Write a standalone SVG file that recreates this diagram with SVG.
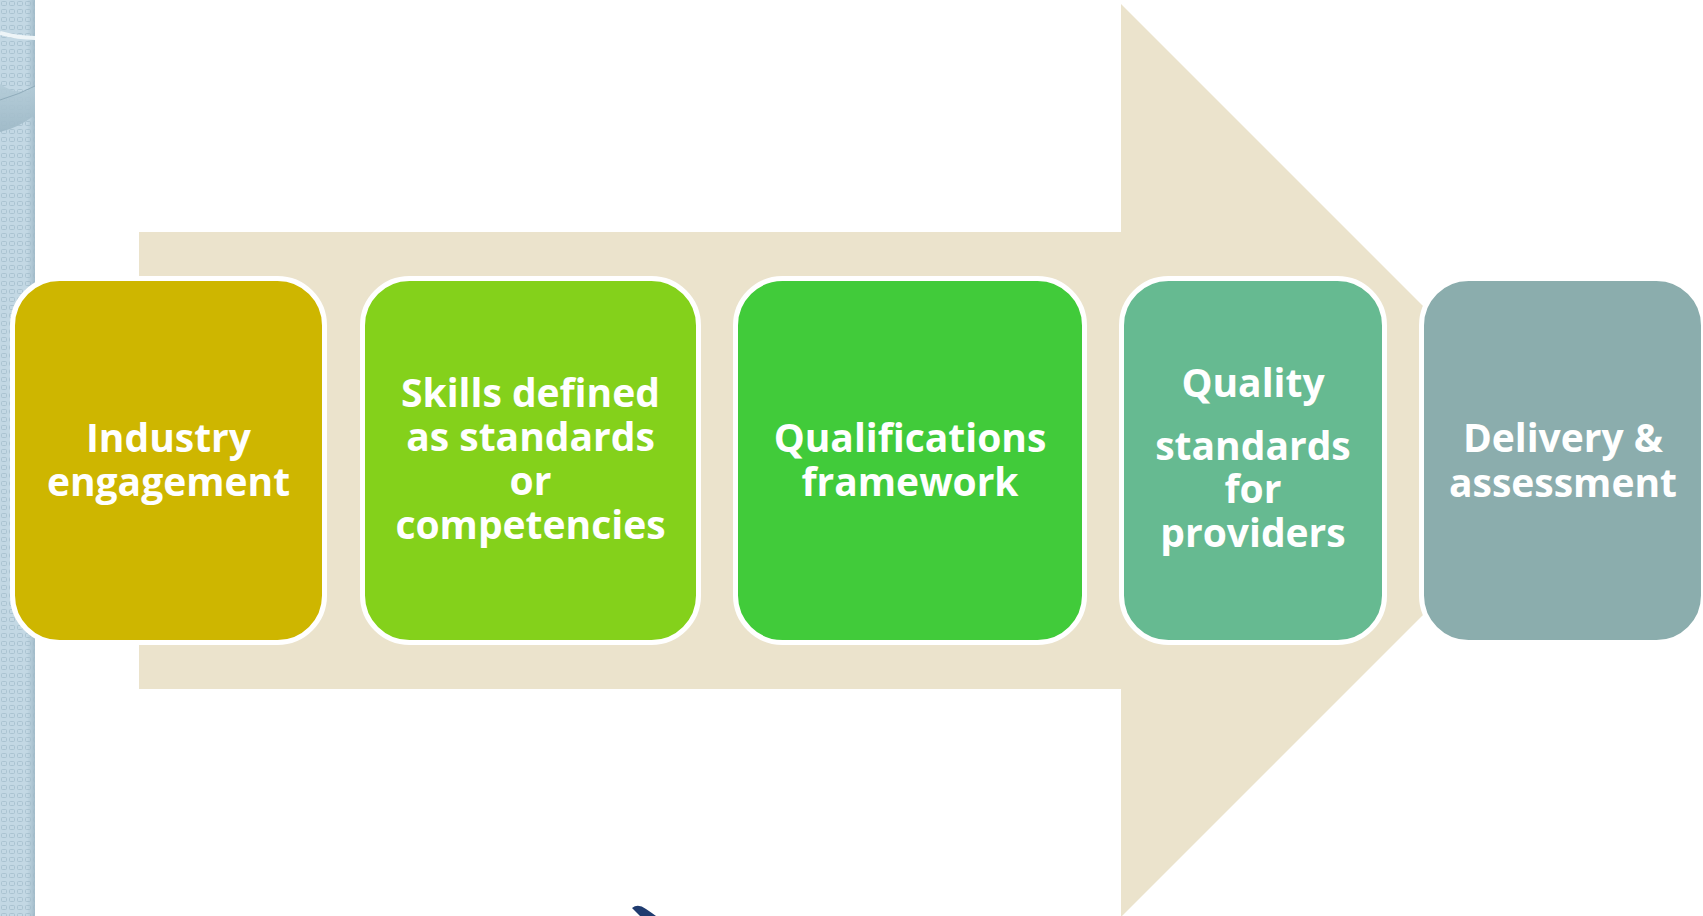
<svg xmlns="http://www.w3.org/2000/svg" width="1703" height="916" viewBox="0 0 1703 916">
  <defs>
    <pattern id="weave" width="8" height="8" patternUnits="userSpaceOnUse">
      <rect width="8" height="8" fill="#c3d8e4"/>
      <rect x="1.5" y="1.5" width="5" height="4" rx="1" fill="none" stroke="#aac3d1" stroke-width="1"/>
    </pattern>
    <linearGradient id="edge" x1="0" y1="0" x2="1" y2="0">
      <stop offset="0" stop-color="#9fb9c7" stop-opacity="0"/>
      <stop offset="1" stop-color="#9fb9c7" stop-opacity="0.9"/>
    </linearGradient>
    <linearGradient id="band" x1="0" y1="0" x2="0" y2="1">
      <stop offset="0" stop-color="#b4ccd8"/>
      <stop offset="1" stop-color="#9db8c6"/>
    </linearGradient>
  </defs>
  <style>
    .box { stroke: #ffffff; stroke-width: 5; }
    .lbl { font-family: "Open Sans", "Lato", "Liberation Sans", sans-serif; font-weight: 700; font-size: 39px; fill: #ffffff; text-anchor: middle; }
  </style>
  <rect width="1703" height="916" fill="#ffffff"/>
  <!-- left decorative strip -->
  <g id="strip">
    <rect x="0" y="0" width="35" height="916" fill="url(#weave)"/>
    <rect x="27" y="0" width="8" height="916" fill="url(#edge)"/>
    <path d="M0,84 Q20,98 35,86 L35,115 Q18,128 0,132 Z" fill="url(#band)" opacity="0.9"/>
    <path d="M0,100 Q20,94 35,86" fill="none" stroke="#8fabba" stroke-width="1"/>
    <path d="M0,33 Q18,38 35,38" fill="none" stroke="#eef5f8" stroke-width="4"/>
  </g>
  <!-- big background arrow -->
  <g id="arrow">
    <polygon points="139,232 1121,232 1121,4 1577.5,460.5 1121,917 1121,689 139,689" fill="#ebe3cc"/>
  </g>
  <g id="connectors"></g>
  <g id="n1">
    <rect class="box" x="12.5" y="278.5" width="312" height="364" rx="47" fill="#ceb600"/>
    <text class="lbl" x="168.5" y="452">Industry</text>
    <text class="lbl" x="168.5" y="496">engagement</text>
  </g>
  <g id="n2">
    <rect class="box" x="362.5" y="278.5" width="336" height="364" rx="47" fill="#84d11b"/>
    <text class="lbl" x="530.5" y="407">Skills defined</text>
    <text class="lbl" x="530.5" y="451">as standards</text>
    <text class="lbl" x="530.5" y="495">or</text>
    <text class="lbl" x="530.5" y="539">competencies</text>
  </g>
  <g id="n3">
    <rect class="box" x="735.5" y="278.5" width="349" height="364" rx="47" fill="#41cb3a"/>
    <text class="lbl" x="910" y="452">Qualifications</text>
    <text class="lbl" x="910" y="496">framework</text>
  </g>
  <g id="n4">
    <rect class="box" x="1121.5" y="278.5" width="263" height="364" rx="47" fill="#66ba91"/>
    <text class="lbl" x="1253" y="397">Quality</text>
    <text class="lbl" x="1253" y="460">standards</text>
    <text class="lbl" x="1253" y="503">for</text>
    <text class="lbl" x="1253" y="547">providers</text>
  </g>
  <g id="n5">
    <rect class="box" x="1421.5" y="278.5" width="282" height="364" rx="47" fill="#8badad"/>
    <text class="lbl" x="1563" y="452">Delivery &amp;</text>
    <text class="lbl" x="1563" y="497">assessment</text>
  </g>
  <!-- small dark shape at bottom edge -->
  <g id="fragment">
    <path d="M632,908 Q638,903 646,909 Q652,913 656,916 L640,916 Z" fill="#1f3b6f"/>
  </g>
</svg>
